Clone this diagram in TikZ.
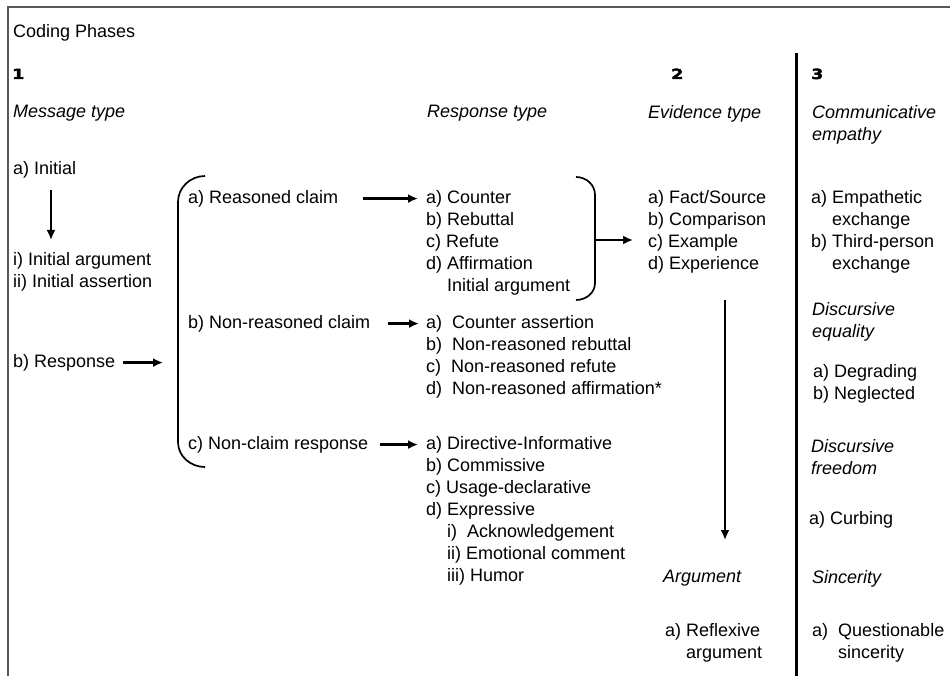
\documentclass[tikz,border=0pt]{standalone}
\usepackage{fontspec}
\setmainfont{Liberation Sans}
\newfontfamily\numfont[FakeBold=2.5,FakeStretch=1.25]{DejaVu Sans Bold}
\usetikzlibrary{arrows.meta}
\newcommand\cpfont{\fontsize{18}{22}\selectfont}

\tikzset{
    txt/.style={anchor=north west, inner sep=0pt, align=left, font=\cpfont},
    head/.style={txt, font=\cpfont\itshape},
    phase/.style={anchor=base west, inner sep=0pt, font=\numfont\fontsize{14}{16}\selectfont},
    arr/.style={-{Latex[length=10pt,width=9pt]}, line width=2.5pt},
    paren/.style={line width=1.7pt},
}

\begin{document}
\begin{tikzpicture}[x=1pt,y=-1pt]
        \useasboundingbox (0,0) rectangle (950,676);
        \draw [line width=2pt, draw=black!65] (950,7) -- (8,7) -- (8,676);
        \draw [line width=3pt] (796,53) -- (796,676);

        % column 1
        \node[txt] (title) at (13,24) {Coding Phases};
        \node[phase] (one) at (12,79) {1};
        \node[head] (msgtype) at (13,105) {Message type};
        \node[txt] (init) at (13,161) {a) Initial};
        \node[txt] (initarg) at (13,252) {i) Initial argument\\ii) Initial assertion};
        \node[txt] (resp) at (13,354) {b) Response};

        \node[txt] (reas) at (188,190) {a) Reasoned claim};
        \node[txt] (nonreas) at (188,315) {b) Non-reasoned claim};
        \node[txt] (nonclaim) at (188,436) {c) Non-claim response};

        \node[head] (resptype) at (427,105) {Response type};
        \node[txt] (counter) at (426,190) {a) Counter\\b) Rebuttal\\c) Refute\\d) Affirmation\\\phantom{d) }Initial argument};
        \node[txt] (nrlist) at (426,315) {a)~ Counter assertion\\b)~ Non-reasoned rebuttal\\c)~ Non-reasoned refute\\d)~ Non-reasoned affirmation*};
        \node[txt] (directive) at (426,436) {a) Directive-Informative\\b) Commissive\\c) Usage-declarative\\d) Expressive\\\phantom{d) }i)~ Acknowledgement\\\phantom{d) }ii) Emotional comment\\\phantom{d) }iii) Humor};

        % column 2
        \node[phase] (two) at (671,79) {2};
        \node[head] (evtype) at (648,105) {Evidence type};
        \node[txt] (fact) at (648,190) {a) Fact/Source\\b) Comparison\\c) Example\\d) Experience};
        \node[head] (argh) at (663,570) {Argument};
        \node[txt] (refl) at (665,623) {a) Reflexive\\\phantom{a) }argument};

        % column 3
        \node[phase] (three) at (811,79) {3};
        \node[head] (commemp) at (812,105) {Communicative\\empathy};
        \node[txt] (empath) at (811,190) {a) Empathetic\\\phantom{a) }exchange\\b) Third-person\\\phantom{b) }exchange};
        \node[head] (disceq) at (812,302) {Discursive\\equality};
        \node[txt] (degr) at (813,364) {a) Degrading\\b) Neglected};
        \node[head] (discfr) at (811,439) {Discursive\\freedom};
        \node[txt] (curb) at (809,511) {a) Curbing};
        \node[head] (sinc) at (812,570) {Sincerity};
        \node[txt] (quest) at (812,623) {a)~ Questionable\\\phantom{a)~ }sincerity};

        % brackets
        \coordinate (lpmid) at (178,361);
        \coordinate (rpmid) at (595,240);
        \coordinate (evdown) at (725,300);
        \draw [paren] (205,176) to[out=180,in=90] (178,202) -- (178,442) to[out=-90,in=180] (205,467);
        \draw [paren] (576,177) to[out=0,in=90] (595,195) -- (595,283) to[out=-90,in=0] (576,300);

        % arrows
        \coordinate (initdown) at ([xshift=38pt,yshift=-12pt]init.south west);
        \draw [arr] (initdown) -- (initdown |- initarg.north) [shorten >=12pt];
        \draw [arr] ([xshift=8pt]resp.east) -- (resp.east -| lpmid) [shorten >=15pt];
        \draw [arr] ([xshift=25pt]reas.east) -- (reas.east -| counter.west) [shorten >=8pt];
        \draw [arr] ([xshift=18pt]nonreas.east) -- (nonreas.east -| nrlist.west) [shorten >=7pt];
        \draw [arr] ([xshift=12pt]nonclaim.east) -- (nonclaim.east -| directive.west) [shorten >=8pt];
        \draw [arr] (rpmid) -- (rpmid -| fact.west) [shorten >=15pt];
        \draw [arr] (evdown) -- (evdown |- argh.north) [shorten >=30pt];
    \end{tikzpicture}
\end{document}
